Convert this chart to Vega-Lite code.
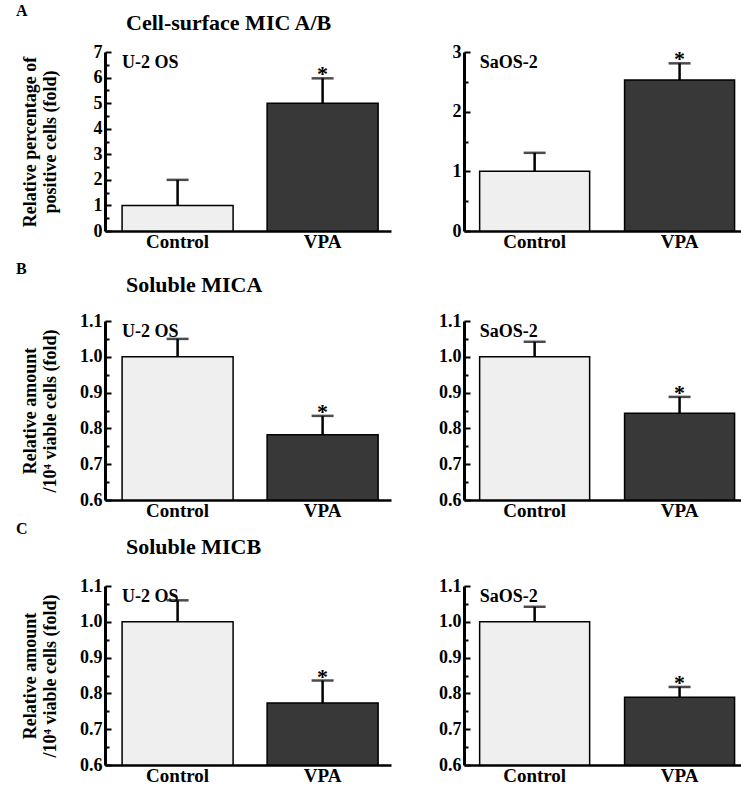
{
  "$schema": "https://vega.github.io/schema/vega-lite/v6.json",
  "padding": {"left": 16, "top": 3, "right": 0, "bottom": 0},
  "background": "white",
  "config": {
    "font": "Liberation Serif",
    "view": {"stroke": null},
    "axis": {"domainColor": "black", "tickColor": "black", "labelColor": "black", "titleColor": "black", "labelFontWeight": "bold", "titleFontWeight": "bold", "grid": false, "labelFont": "Liberation Serif", "titleFont": "Liberation Serif"},
    "axisY": {"domainWidth": 3, "tickWidth": 2, "tickSize": -6, "labelFontSize": 18, "labelPadding": 9, "titleFontSize": 18, "titleLineHeight": 20, "minExtent": 30, "maxExtent": 30, "titlePadding": 16},
    "axisX": {"domainWidth": 2.5, "ticks": false, "labelFontSize": 19, "labelAngle": 0, "labelPadding": 1, "title": null},
    "title": {"font": "Liberation Serif", "fontWeight": "bold", "color": "black"}
  },
  "datasets": {
    "d": [
      {"panel": "A1", "group": "Control", "mean": 1.0, "upper": 2.0, "star": ""},
      {"panel": "A1", "group": "VPA", "mean": 5.0, "upper": 5.97, "star": "*"},
      {"panel": "A2", "group": "Control", "mean": 1.0, "upper": 1.31, "star": ""},
      {"panel": "A2", "group": "VPA", "mean": 2.53, "upper": 2.81, "star": "*"},
      {"panel": "B1", "group": "Control", "mean": 1.0, "upper": 1.05, "star": ""},
      {"panel": "B1", "group": "VPA", "mean": 0.782, "upper": 0.835, "star": "*"},
      {"panel": "B2", "group": "Control", "mean": 1.0, "upper": 1.042, "star": ""},
      {"panel": "B2", "group": "VPA", "mean": 0.842, "upper": 0.888, "star": "*"},
      {"panel": "C1", "group": "Control", "mean": 1.0, "upper": 1.06, "star": ""},
      {"panel": "C1", "group": "VPA", "mean": 0.773, "upper": 0.836, "star": "*"},
      {"panel": "C2", "group": "Control", "mean": 1.0, "upper": 1.042, "star": ""},
      {"panel": "C2", "group": "VPA", "mean": 0.789, "upper": 0.818, "star": "*"}
    ],
    "cells": [
      {"panel": "A1", "cell": "U-2 OS"},
      {"panel": "A2", "cell": "SaOS-2"},
      {"panel": "B1", "cell": "U-2 OS"},
      {"panel": "B2", "cell": "SaOS-2"},
      {"panel": "C1", "cell": "U-2 OS"},
      {"panel": "C2", "cell": "SaOS-2"}
    ]
  },
  "spacing": 10,
  "vconcat": [
    {
      "title": {"text": "A", "anchor": "start", "fontSize": 16, "offset": -7, "dx": -5},
      "spacing": 43,
      "hconcat": [
        {
          "width": 286, "height": 179,
          "title": {"text": "Cell-surface MIC A/B", "anchor": "start", "frame": "group", "dx": 21, "fontSize": 22, "offset": 8},
          "data": {"name": "d"},
          "transform": [{"filter": "datum.panel === 'A1'"}],
          "resolve": {"axis": {"y": "independent"}},
          "layer": [
            {"mark": {"type": "bar", "stroke": "black", "strokeWidth": 1.5},
             "encoding": {
               "x": {"field": "group", "type": "nominal", "sort": ["Control", "VPA"], "scale": {"paddingInner": 0.2345, "paddingOuter": 0.1034, "align": 0.57}, "axis": {"title": null}},
               "y": {"field": "mean", "type": "quantitative", "scale": {"domain": [0, 7], "nice": false, "zero": false}, "axis": {"values": [0, 1, 2, 3, 4, 5, 6, 7], "title": ["Relative percentage of", "positive cells (fold)"]}},
               "y2": {"datum": 0},
               "fill": {"field": "group", "type": "nominal", "scale": {"domain": ["Control", "VPA"], "range": ["#efefef", "#383838"]}, "legend": null}}},
            {"mark": {"type": "rule", "strokeWidth": 2.5, "color": "black"},
             "encoding": {
               "x": {"field": "group", "type": "nominal", "sort": ["Control", "VPA"]},
               "y": {"field": "mean", "type": "quantitative", "axis": {"values": [0.5, 1.5, 2.5, 3.5, 4.5, 5.5, 6.5], "labels": false, "domain": false, "tickSize": -4, "title": null, "orient": "left"}},
               "y2": {"field": "upper"}}},
            {"mark": {"type": "tick", "thickness": 2.5, "size": 22, "color": "black"},
             "encoding": {
               "x": {"field": "group", "type": "nominal", "sort": ["Control", "VPA"]},
               "y": {"field": "upper", "type": "quantitative", "axis": null}}},
            {"mark": {"type": "text", "fontSize": 22, "fontWeight": "bold", "baseline": "alphabetic", "dy": 3, "color": "black"},
             "encoding": {
               "x": {"field": "group", "type": "nominal", "sort": ["Control", "VPA"]},
               "y": {"field": "upper", "type": "quantitative", "axis": null},
               "text": {"field": "star"}}},
            {"data": {"name": "cells"},
             "transform": [{"filter": "datum.panel === 'A1'"}],
             "mark": {"type": "text", "align": "left", "baseline": "top", "fontSize": 18, "fontWeight": "bold", "dy": 2, "color": "black"},
             "encoding": {
               "x": {"datum": "Control", "bandPosition": 0},
               "y": {"datum": 7, "type": "quantitative", "axis": null},
               "text": {"field": "cell"}}}
          ]
        },
        {
          "width": 279, "height": 179,
          "data": {"name": "d"},
          "transform": [{"filter": "datum.panel === 'A2'"}],
          "resolve": {"axis": {"y": "independent"}},
          "layer": [
            {"mark": {"type": "bar", "stroke": "black", "strokeWidth": 1.5},
             "encoding": {
               "x": {"field": "group", "type": "nominal", "sort": ["Control", "VPA"], "scale": {"paddingInner": 0.241, "paddingOuter": 0.083, "align": 0.65}, "axis": {"title": null}},
               "y": {"field": "mean", "type": "quantitative", "scale": {"domain": [0, 3], "nice": false, "zero": false}, "axis": {"values": [0, 1, 2, 3], "title": null}},
               "y2": {"datum": 0},
               "fill": {"field": "group", "type": "nominal", "scale": {"domain": ["Control", "VPA"], "range": ["#efefef", "#383838"]}, "legend": null}}},
            {"mark": {"type": "rule", "strokeWidth": 2.5, "color": "black"},
             "encoding": {
               "x": {"field": "group", "type": "nominal", "sort": ["Control", "VPA"]},
               "y": {"field": "mean", "type": "quantitative", "axis": {"values": [0.5, 1.5, 2.5], "labels": false, "domain": false, "tickSize": -4, "title": null, "orient": "left"}},
               "y2": {"field": "upper"}}},
            {"mark": {"type": "tick", "thickness": 2.5, "size": 22, "color": "black"},
             "encoding": {
               "x": {"field": "group", "type": "nominal", "sort": ["Control", "VPA"]},
               "y": {"field": "upper", "type": "quantitative", "axis": null}}},
            {"mark": {"type": "text", "fontSize": 22, "fontWeight": "bold", "baseline": "alphabetic", "dy": 3, "color": "black"},
             "encoding": {
               "x": {"field": "group", "type": "nominal", "sort": ["Control", "VPA"]},
               "y": {"field": "upper", "type": "quantitative", "axis": null},
               "text": {"field": "star"}}},
            {"data": {"name": "cells"},
             "transform": [{"filter": "datum.panel === 'A2'"}],
             "mark": {"type": "text", "align": "left", "baseline": "top", "fontSize": 18, "fontWeight": "bold", "dy": 2, "color": "black"},
             "encoding": {
               "x": {"datum": "Control", "bandPosition": 0},
               "y": {"datum": 3, "type": "quantitative", "axis": null},
               "text": {"field": "cell"}}}
          ]
        }
      ]
    },
    {
      "spacing": 1,
      "vconcat": [
        {
          "title": {"text": "B", "anchor": "start", "fontSize": 16, "offset": -3, "dx": -5},
          "spacing": 43,
          "hconcat": [
            {
              "width": 286, "height": 179,
              "title": {"text": "Soluble MICA", "anchor": "start", "frame": "group", "dx": 21, "fontSize": 22, "offset": 15},
              "data": {"name": "d"},
              "transform": [{"filter": "datum.panel === 'B1'"}],
              "resolve": {"axis": {"y": "independent"}},
              "layer": [
                {"mark": {"type": "bar", "stroke": "black", "strokeWidth": 1.5},
                 "encoding": {
                   "x": {"field": "group", "type": "nominal", "sort": ["Control", "VPA"], "scale": {"paddingInner": 0.2345, "paddingOuter": 0.1034, "align": 0.57}, "axis": {"title": null}},
                   "y": {"field": "mean", "type": "quantitative", "scale": {"domain": [0.6, 1.1], "nice": false, "zero": false}, "axis": {"values": [0.6, 0.7, 0.8, 0.9, 1.0, 1.1], "format": ".1f", "title": ["Relative amount", "/10⁴ viable cells (fold)"]}},
                   "y2": {"datum": 0.6},
                   "fill": {"field": "group", "type": "nominal", "scale": {"domain": ["Control", "VPA"], "range": ["#efefef", "#383838"]}, "legend": null}}},
                {"mark": {"type": "rule", "strokeWidth": 2.5, "color": "black"},
                 "encoding": {
                   "x": {"field": "group", "type": "nominal", "sort": ["Control", "VPA"]},
                   "y": {"field": "mean", "type": "quantitative", "axis": {"values": [0.65, 0.75, 0.85, 0.95, 1.05], "labels": false, "domain": false, "tickSize": -4, "title": null, "orient": "left"}},
                   "y2": {"field": "upper"}}},
                {"mark": {"type": "tick", "thickness": 2.5, "size": 22, "color": "black"},
                 "encoding": {
                   "x": {"field": "group", "type": "nominal", "sort": ["Control", "VPA"]},
                   "y": {"field": "upper", "type": "quantitative", "axis": null}}},
                {"mark": {"type": "text", "fontSize": 22, "fontWeight": "bold", "baseline": "alphabetic", "dy": 3, "color": "black"},
                 "encoding": {
                   "x": {"field": "group", "type": "nominal", "sort": ["Control", "VPA"]},
                   "y": {"field": "upper", "type": "quantitative", "axis": null},
                   "text": {"field": "star"}}},
                {"data": {"name": "cells"},
                 "transform": [{"filter": "datum.panel === 'B1'"}],
                 "mark": {"type": "text", "align": "left", "baseline": "top", "fontSize": 18, "fontWeight": "bold", "dy": 2, "color": "black"},
                 "encoding": {
                   "x": {"datum": "Control", "bandPosition": 0},
                   "y": {"datum": 1.1, "type": "quantitative", "axis": null},
                   "text": {"field": "cell"}}}
              ]
            },
            {
              "width": 279, "height": 179,
              "data": {"name": "d"},
              "transform": [{"filter": "datum.panel === 'B2'"}],
              "resolve": {"axis": {"y": "independent"}},
              "layer": [
                {"mark": {"type": "bar", "stroke": "black", "strokeWidth": 1.5},
                 "encoding": {
                   "x": {"field": "group", "type": "nominal", "sort": ["Control", "VPA"], "scale": {"paddingInner": 0.241, "paddingOuter": 0.083, "align": 0.65}, "axis": {"title": null}},
                   "y": {"field": "mean", "type": "quantitative", "scale": {"domain": [0.6, 1.1], "nice": false, "zero": false}, "axis": {"values": [0.6, 0.7, 0.8, 0.9, 1.0, 1.1], "format": ".1f", "title": null}},
                   "y2": {"datum": 0.6},
                   "fill": {"field": "group", "type": "nominal", "scale": {"domain": ["Control", "VPA"], "range": ["#efefef", "#383838"]}, "legend": null}}},
                {"mark": {"type": "rule", "strokeWidth": 2.5, "color": "black"},
                 "encoding": {
                   "x": {"field": "group", "type": "nominal", "sort": ["Control", "VPA"]},
                   "y": {"field": "mean", "type": "quantitative", "axis": {"values": [0.65, 0.75, 0.85, 0.95, 1.05], "labels": false, "domain": false, "tickSize": -4, "title": null, "orient": "left"}},
                   "y2": {"field": "upper"}}},
                {"mark": {"type": "tick", "thickness": 2.5, "size": 22, "color": "black"},
                 "encoding": {
                   "x": {"field": "group", "type": "nominal", "sort": ["Control", "VPA"]},
                   "y": {"field": "upper", "type": "quantitative", "axis": null}}},
                {"mark": {"type": "text", "fontSize": 22, "fontWeight": "bold", "baseline": "alphabetic", "dy": 3, "color": "black"},
                 "encoding": {
                   "x": {"field": "group", "type": "nominal", "sort": ["Control", "VPA"]},
                   "y": {"field": "upper", "type": "quantitative", "axis": null},
                   "text": {"field": "star"}}},
                {"data": {"name": "cells"},
                 "transform": [{"filter": "datum.panel === 'B2'"}],
                 "mark": {"type": "text", "align": "left", "baseline": "top", "fontSize": 18, "fontWeight": "bold", "dy": 2, "color": "black"},
                 "encoding": {
                   "x": {"datum": "Control", "bandPosition": 0},
                   "y": {"datum": 1.1, "type": "quantitative", "axis": null},
                   "text": {"field": "cell"}}}
              ]
            }
          ]
        },
        {
          "title": {"text": "C", "anchor": "start", "fontSize": 16, "offset": -1, "dx": -5},
          "spacing": 43,
          "hconcat": [
            {
              "width": 286, "height": 179,
              "title": {"text": "Soluble MICB", "anchor": "start", "frame": "group", "dx": 21, "fontSize": 22, "offset": 18},
              "data": {"name": "d"},
              "transform": [{"filter": "datum.panel === 'C1'"}],
              "resolve": {"axis": {"y": "independent"}},
              "layer": [
                {"mark": {"type": "bar", "stroke": "black", "strokeWidth": 1.5},
                 "encoding": {
                   "x": {"field": "group", "type": "nominal", "sort": ["Control", "VPA"], "scale": {"paddingInner": 0.2345, "paddingOuter": 0.1034, "align": 0.57}, "axis": {"title": null}},
                   "y": {"field": "mean", "type": "quantitative", "scale": {"domain": [0.6, 1.1], "nice": false, "zero": false}, "axis": {"values": [0.6, 0.7, 0.8, 0.9, 1.0, 1.1], "format": ".1f", "title": ["Relative amount", "/10⁴ viable cells (fold)"]}},
                   "y2": {"datum": 0.6},
                   "fill": {"field": "group", "type": "nominal", "scale": {"domain": ["Control", "VPA"], "range": ["#efefef", "#383838"]}, "legend": null}}},
                {"mark": {"type": "rule", "strokeWidth": 2.5, "color": "black"},
                 "encoding": {
                   "x": {"field": "group", "type": "nominal", "sort": ["Control", "VPA"]},
                   "y": {"field": "mean", "type": "quantitative", "axis": {"values": [0.65, 0.75, 0.85, 0.95, 1.05], "labels": false, "domain": false, "tickSize": -4, "title": null, "orient": "left"}},
                   "y2": {"field": "upper"}}},
                {"mark": {"type": "tick", "thickness": 2.5, "size": 22, "color": "black"},
                 "encoding": {
                   "x": {"field": "group", "type": "nominal", "sort": ["Control", "VPA"]},
                   "y": {"field": "upper", "type": "quantitative", "axis": null}}},
                {"mark": {"type": "text", "fontSize": 22, "fontWeight": "bold", "baseline": "alphabetic", "dy": 3, "color": "black"},
                 "encoding": {
                   "x": {"field": "group", "type": "nominal", "sort": ["Control", "VPA"]},
                   "y": {"field": "upper", "type": "quantitative", "axis": null},
                   "text": {"field": "star"}}},
                {"data": {"name": "cells"},
                 "transform": [{"filter": "datum.panel === 'C1'"}],
                 "mark": {"type": "text", "align": "left", "baseline": "top", "fontSize": 18, "fontWeight": "bold", "dy": 2, "color": "black"},
                 "encoding": {
                   "x": {"datum": "Control", "bandPosition": 0},
                   "y": {"datum": 1.1, "type": "quantitative", "axis": null},
                   "text": {"field": "cell"}}}
              ]
            },
            {
              "width": 279, "height": 179,
              "data": {"name": "d"},
              "transform": [{"filter": "datum.panel === 'C2'"}],
              "resolve": {"axis": {"y": "independent"}},
              "layer": [
                {"mark": {"type": "bar", "stroke": "black", "strokeWidth": 1.5},
                 "encoding": {
                   "x": {"field": "group", "type": "nominal", "sort": ["Control", "VPA"], "scale": {"paddingInner": 0.241, "paddingOuter": 0.083, "align": 0.65}, "axis": {"title": null}},
                   "y": {"field": "mean", "type": "quantitative", "scale": {"domain": [0.6, 1.1], "nice": false, "zero": false}, "axis": {"values": [0.6, 0.7, 0.8, 0.9, 1.0, 1.1], "format": ".1f", "title": null}},
                   "y2": {"datum": 0.6},
                   "fill": {"field": "group", "type": "nominal", "scale": {"domain": ["Control", "VPA"], "range": ["#efefef", "#383838"]}, "legend": null}}},
                {"mark": {"type": "rule", "strokeWidth": 2.5, "color": "black"},
                 "encoding": {
                   "x": {"field": "group", "type": "nominal", "sort": ["Control", "VPA"]},
                   "y": {"field": "mean", "type": "quantitative", "axis": {"values": [0.65, 0.75, 0.85, 0.95, 1.05], "labels": false, "domain": false, "tickSize": -4, "title": null, "orient": "left"}},
                   "y2": {"field": "upper"}}},
                {"mark": {"type": "tick", "thickness": 2.5, "size": 22, "color": "black"},
                 "encoding": {
                   "x": {"field": "group", "type": "nominal", "sort": ["Control", "VPA"]},
                   "y": {"field": "upper", "type": "quantitative", "axis": null}}},
                {"mark": {"type": "text", "fontSize": 22, "fontWeight": "bold", "baseline": "alphabetic", "dy": 3, "color": "black"},
                 "encoding": {
                   "x": {"field": "group", "type": "nominal", "sort": ["Control", "VPA"]},
                   "y": {"field": "upper", "type": "quantitative", "axis": null},
                   "text": {"field": "star"}}},
                {"data": {"name": "cells"},
                 "transform": [{"filter": "datum.panel === 'C2'"}],
                 "mark": {"type": "text", "align": "left", "baseline": "top", "fontSize": 18, "fontWeight": "bold", "dy": 2, "color": "black"},
                 "encoding": {
                   "x": {"datum": "Control", "bandPosition": 0},
                   "y": {"datum": 1.1, "type": "quantitative", "axis": null},
                   "text": {"field": "cell"}}}
              ]
            }
          ]
        }
      ]
    }
  ]
}
